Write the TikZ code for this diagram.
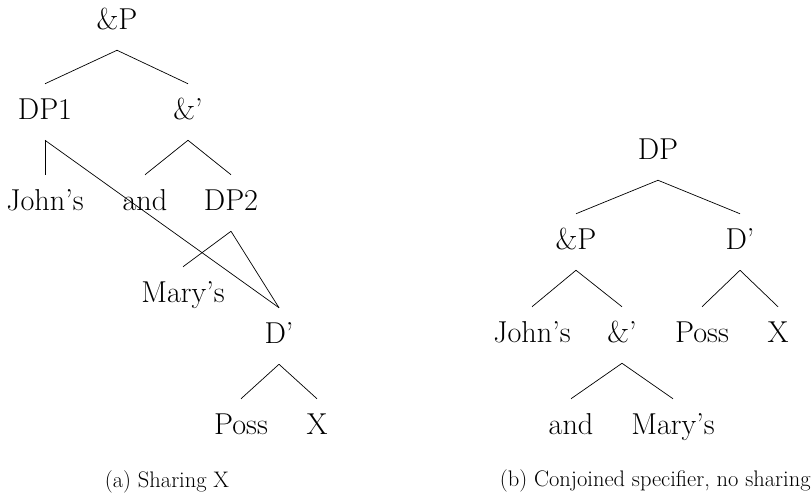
\documentclass[tikz,border=0pt]{standalone}
\usepackage{fontspec}
\usepackage{tikz}
\usetikzlibrary{positioning}
\tikzset{cat/.style={draw=none, inner xsep=0pt, inner ysep=10.5pt, text height=14.8pt, text depth=4pt, font=\fontsize{21.5}{25}\selectfont}}
\tikzset{capt/.style={draw=none, inner sep=0pt, font=\fontsize{16}{19}\selectfont}}
\tikzset{
  edgetree/.style={black, line width=0.5pt}
}
\begin{document}
\begin{tikzpicture}
\useasboundingbox (0,0) rectangle (20.275,-12.4);
\node[cat](aandP) at (2.925,-0.55) {\&P};
\node[cat](aDPone) at (1.125,-2.8) {DP1};
\node[cat](aandbar) at (4.7,-2.8) {\&'};
\node[cat](ajohn) at (1.125,-5.075) {John's};
\node[cat](aand) at (3.625,-5.075) {and};
\node[cat](aDPtwo) at (5.775,-5.075) {DP2};
\node[cat](amary) at (4.575,-7.375) {Mary's};
\node[cat](aDbar) at (6.975,-8.4) {D'};
\node[cat](aposs) at (6.025,-10.675) {Poss};
\node[cat](aX) at (7.925,-10.675) {X};
\node[capt](acapt) at (4.175,-12.05) {(a) Sharing X};
\draw[edgetree] (aandP.south) -- (aDPone.north);
\draw[edgetree] (aandP.south) -- (aandbar.north);
\draw[edgetree] (aDPone.south) -- (ajohn.north);
\draw[edgetree] (aDPone.south) -- (aDbar.north);
\draw[edgetree] (aandbar.south) -- (aand.north);
\draw[edgetree] (aandbar.south) -- (aDPtwo.north);
\draw[edgetree] (aDPtwo.south) -- (amary.north);
\draw[edgetree] (aDPtwo.south) -- (aDbar.north);
\draw[edgetree] (aDbar.south) -- (aposs.north);
\draw[edgetree] (aDbar.south) -- (aX.north);
\node[cat](bDP) at (16.45,-3.8) {DP};
\node[cat](bandP) at (14.4,-6.05) {\&P};
\node[cat](bDbar) at (18.5,-6.05) {D'};
\node[cat](bjohn) at (13.3,-8.375) {John's};
\node[cat](bandbar) at (15.55,-8.375) {\&'};
\node[cat](bposs) at (17.55,-8.375) {Poss};
\node[cat](bX) at (19.45,-8.375) {X};
\node[cat](band) at (14.275,-10.675) {and};
\node[cat](bmary) at (16.825,-10.675) {Mary's};
\node[capt](bcapt) at (16.38,-12.025) {(b) Conjoined specifier, no sharing};
\draw[edgetree] (bDP.south) -- (bandP.north);
\draw[edgetree] (bDP.south) -- (bDbar.north);
\draw[edgetree] (bandP.south) -- (bjohn.north);
\draw[edgetree] (bandP.south) -- (bandbar.north);
\draw[edgetree] (bDbar.south) -- (bposs.north);
\draw[edgetree] (bDbar.south) -- (bX.north);
\draw[edgetree] (bandbar.south) -- (band.north);
\draw[edgetree] (bandbar.south) -- (bmary.north);
\end{tikzpicture}
\end{document}
